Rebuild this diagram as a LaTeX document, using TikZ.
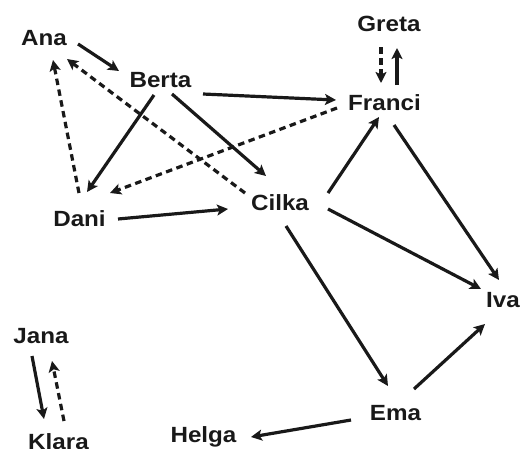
\documentclass[tikz,border=0pt]{standalone}
\usepackage{fontspec}
\setmainfont{Liberation Sans}[FakeStretch=1.1]
\usetikzlibrary{arrows.meta,calc}
\tikzset{
  person/.style={anchor=base,inner sep=0pt,font=\bfseries\fontsize{22}{22}\selectfont,text=black!90},
  link/.style={line width=3.2pt,draw=black!90,-{Stealth[length=11pt,width=11pt,inset=2.5pt]}},
  dlink/.style={link,dash pattern=on 6.5pt off 4.5pt}
}
\newcommand{\rp}[3]{($(#1.base)+(#2,#3)$)}
\begin{document}
\begin{tikzpicture}[x=1pt,y=-1pt]
\useasboundingbox (0,0) rectangle (522,448);
\node[person] (Ana) at (44,45) {Ana};
\node[person] (Berta) at (160.5,87) {Berta};
\node[person] (Greta) at (389,31) {Greta};
\node[person] (Franci) at (384.5,110) {Franci};
\node[person] (Dani) at (79.5,226) {Dani};
\node[person] (Cilka) at (280,210) {Cilka};
\node[person] (Iva) at (503,307) {Iva};
\node[person] (Jana) at (41,343) {Jana};
\node[person] (Klara) at (58.5,449) {Klara};
\node[person] (Helga) at (203.5,442) {Helga};
\node[person] (Ema) at (395.5,420) {Ema};

\draw[link] \rp{Ana}{34}{-1} -- \rp{Berta}{-41.5}{-16};
\draw[link] \rp{Berta}{42.5}{7} -- \rp{Franci}{-48.5}{-10};
\draw[link] \rp{Berta}{-6.5}{8} -- \rp{Dani}{7.5}{-34};
\draw[link] \rp{Berta}{11.5}{7} -- \rp{Cilka}{-14}{-34};
\draw[dlink] \rp{Cilka}{-35}{-17} -- \rp{Ana}{23}{14};
\draw[dlink] \rp{Dani}{-0.5}{-33} -- \rp{Ana}{9}{15};
\draw[dlink] \rp{Franci}{-47.5}{-2} -- \rp{Dani}{30.5}{-33};
\draw[link] \rp{Dani}{38.5}{-7} -- \rp{Cilka}{-52}{-1};
\draw[dlink] \rp{Greta}{-8}{16} -- \rp{Franci}{-3.5}{-27};
\draw[link] \rp{Franci}{12.5}{-25} -- \rp{Greta}{8}{17};
\draw[link] \rp{Cilka}{48}{-17} -- \rp{Franci}{-5.5}{7};
\draw[link] \rp{Franci}{9.5}{15} -- \rp{Iva}{-4}{-27};
\draw[link] \rp{Cilka}{48}{-1} -- \rp{Iva}{-22}{-18};
\draw[link] \rp{Cilka}{6}{16} -- \rp{Ema}{-7.5}{-34};
\draw[link] \rp{Ema}{18.5}{-31} -- \rp{Iva}{-18}{17};
\draw[link] \rp{Ema}{-44.5}{0} -- \rp{Helga}{47.5}{-5};
\draw[link] \rp{Jana}{-9}{13} -- \rp{Klara}{-14.5}{-30};
\draw[dlink] \rp{Klara}{5.5}{-28} -- \rp{Jana}{11}{18};
\end{tikzpicture}
\end{document}
